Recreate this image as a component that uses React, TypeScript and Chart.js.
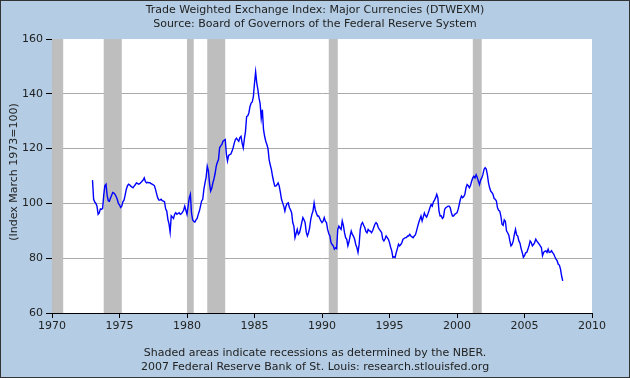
import React, { useEffect, useRef } from "react";
import { Chart, registerables } from "chart.js";

Chart.register(...registerables);

const titleLines = [
  "Trade Weighted Exchange Index: Major Currencies (DTWEXM)",
  "Source: Board of Governors of the Federal Reserve System",
];
const footerLines = [
  "Shaded areas indicate recessions as determined by the NBER.",
  "2007 Federal Reserve Bank of St. Louis: research.stlouisfed.org",
];
const yAxisTitle = "(Index March 1973=100)";

const startYear = 1973;
// monthly values, Jan 1973 .. Nov 2007
const values = [
  // 1973
  108.5, 101.5, 100.5, 100, 99, 96, 96.5, 98, 97.8, 98.2, 103, 106.5,
  // 1974
  107, 103, 101, 100.8, 102, 103, 104, 103.8, 103.3, 102.5, 101.5, 100,
  // 1975
  99.5, 98.5, 99, 100.6, 101.2, 103, 105.1, 106.3, 107, 106.8, 106.3, 106,
  // 1976
  105.7, 106.3, 106.8, 107.5, 107.3, 107, 107.2, 107.6, 108.1, 108.5, 109.3, 108,
  // 1977
  107.5, 107.7, 107.5, 107.6, 107.2, 107, 106.8, 106.5, 105.1, 103.5, 102, 101.2,
  // 1978
  101.2, 101.5, 101, 100.8, 100.6, 98, 97.2, 94.2, 92.5, 89.5, 95.5, 95,
  // 1979
  94.5, 96, 96.6, 96, 96.3, 96.6, 96, 96.2, 96.8, 97.5, 99, 97.5,
  // 1980
  96, 99, 102, 103.3, 96.5, 94, 93.4, 93.2, 94, 94.5, 96, 97.2,
  // 1981
  99, 100.9, 101.5, 105.1, 107.5, 109.5, 113.6, 112, 107.5, 104.5, 105.5, 107.5,
  // 1982
  109, 111, 113.6, 115, 116, 120.3, 121, 121.5, 122.7, 123, 123.3, 118,
  // 1983
  115.5, 117.5, 117.8, 118, 119, 120.3, 122, 123.3, 123.8, 123.2, 122.7, 124,
  // 1984
  124.5, 122, 120.3, 123.5, 126.3, 131.7, 132, 133, 135.4, 136.6, 137, 139,
  // 1985
  143.9, 148, 144, 141.5, 138.5, 136.4, 131, 134.2, 127, 124.5, 122.7, 121.5,
  // 1986
  120, 116, 114, 112.4, 110, 108, 106.3, 106.3, 106.8, 107.5, 106.3, 104,
  // 1987
  101.5, 100.2, 99, 97.2, 99, 100, 100.2, 98.5, 97.7, 96.6, 93, 91.7,
  // 1988
  87.5, 89, 90.5, 88.7, 89.3, 91, 93, 94.8, 94, 93, 89.5, 88.1,
  // 1989
  89.3, 91.1, 94.2, 96, 97.2, 100.2, 97.7, 96.5, 95.4, 95.4, 94.5, 93.6,
  // 1990
  93, 93.5, 94.8, 93.5, 93, 90.5, 89, 88.1, 85.7, 85, 84.5, 83.3,
  // 1991
  83.8, 83.5, 90.5, 91.7, 91, 90.5, 93.6, 92, 89.3, 87.5, 86.9, 84.5,
  // 1992
  86, 88.1, 89.9, 88.7, 88, 86.9, 85, 83.9, 82.1, 85, 90.5, 92.4,
  // 1993
  93, 92, 91.2, 89.8, 89.3, 90.5, 90, 89.9, 89.3, 90, 91.2, 92.4,
  // 1994
  93, 92.5, 91.2, 90.5, 90, 89.3, 86.9, 86.3, 87, 88.1, 87.5, 86.9,
  // 1995
  85.7, 84, 82.7, 80.3, 80.5, 80.3, 82.1, 83.5, 85.1, 84.5, 85, 85.7,
  // 1996
  86.9, 87.2, 87.5, 87.5, 88.1, 88.1, 88.7, 88.1, 87.8, 87.5, 88.1, 88.5,
  // 1997
  89.9, 91.5, 93, 94.2, 95.4, 93.6, 95, 96.5, 95.5, 95, 96, 97.2,
  // 1998
  98.5, 99.6, 99, 100.5, 101.2, 102.1, 103.3, 102, 97.2, 95.4, 95.5, 94.5,
  // 1999
  95, 97.8, 98.4, 98.7, 99, 99, 98.4, 96.6, 95.4, 95.4, 96, 96.3,
  // 2000
  96.6, 97.8, 99.6, 101.5, 102.7, 102.1, 102.5, 103.3, 105.7, 106.9, 106.5, 105.7,
  // 2001
  106.5, 108.1, 109.3, 109.9, 109.3, 110.5, 109.5, 108.1, 106.9, 108.5, 109.3, 110.5,
  // 2002
  112.4, 113, 112.5, 110.5, 107.5, 105.7, 104.5, 104, 103.3, 101.8, 101.5, 100.9,
  // 2003
  98.4, 97.5, 97.2, 95.4, 92.4, 92, 94, 93.5, 90, 89.3, 88.5, 86.3,
  // 2004
  84.5, 85, 86.3, 88.7, 90.5, 88.5, 88.1, 86.3, 85.5, 83.5, 82.1, 80.3,
  // 2005
  80.9, 82, 82.1, 83.3, 84.5, 86.3, 85.7, 84.5, 85, 85.7, 86.9, 86.2,
  // 2006
  85.7, 85.1, 84.5, 83.9, 80.9, 82.1, 82.5, 82.7, 82.1, 83.3, 82.1, 82.2,
  // 2007
  82.7, 82, 81.5, 80.5, 79.7, 79.1, 77.8, 77.5, 76, 73.5, 71.7,
];

const recessionStarts = [1969.92, 1973.83, 1980.0, 1981.5, 1990.5, 2001.17];
const recessionEnds = [1970.83, 1975.17, 1980.5, 1982.83, 1991.17, 2001.83];

const xMin = 1970;
const xMax = 2010;
const xStep = 5;
const yMin = 60;
const yMax = 160;
const yStep = 20;

const FONT = "'DejaVu Sans', Verdana, sans-serif";
const BG = "#b4cde4";

const framePlugin = {
  id: "frame",
  beforeDraw(chart: any) {
    const { ctx, chartArea, width, height } = chart;
    ctx.save();
    ctx.fillStyle = BG;
    ctx.fillRect(0, 0, width, height);
    ctx.fillStyle = "#ffffff";
    ctx.fillRect(chartArea.left, chartArea.top, chartArea.right - chartArea.left, chartArea.bottom - chartArea.top);
    ctx.restore();
  },
  beforeDatasetsDraw(chart: any) {
    const { ctx, chartArea, scales } = chart;
    ctx.save();
    ctx.beginPath();
    ctx.rect(chartArea.left, chartArea.top, chartArea.right - chartArea.left, chartArea.bottom - chartArea.top);
    ctx.clip();
    ctx.fillStyle = "#bebebe";
    for (let i = 0; i < recessionStarts.length; i++) {
      const x1 = scales.x.getPixelForValue(recessionStarts[i]);
      const x2 = scales.x.getPixelForValue(recessionEnds[i]);
      ctx.fillRect(x1, chartArea.top, x2 - x1, chartArea.bottom - chartArea.top);
    }
    ctx.restore();
  },
  afterDraw(chart: any) {
    const { ctx, width, height, chartArea } = chart;
    ctx.save();
    ctx.fillStyle = "#222222";
    ctx.font = `11px ${FONT}`;
    ctx.textAlign = "center";
    ctx.textBaseline = "middle";
    ctx.fillText(titleLines[0], width / 2, 10.5);
    ctx.fillText(titleLines[1], width / 2, 24);
    ctx.fillText(footerLines[0], width / 2, 353);
    ctx.fillText(footerLines[1], width / 2, 367);
    ctx.translate(14, (chartArea.top + chartArea.bottom) / 2 - 4);
    ctx.rotate(-Math.PI / 2);
    ctx.fillText(yAxisTitle, 0, 0);
    ctx.restore();
    ctx.save();
    ctx.strokeStyle = "#333333";
    ctx.lineWidth = 1;
    ctx.strokeRect(0.5, 0.5, width - 1, height - 1);
    ctx.restore();
  },
};

export default function App() {
  const ref = useRef<HTMLCanvasElement | null>(null);
  useEffect(() => {
    document.body.style.margin = "0";
    document.body.style.overflow = "hidden";
    const canvas = ref.current;
    if (!canvas) return;
    const points = values.map((v, i) => ({ x: startYear + i / 12, y: v }));
    const chart = new Chart(canvas, {
      type: "line",
      data: {
        datasets: [
          {
            data: points,
            borderColor: "#0000ff",
            borderWidth: 1.4,
            pointRadius: 0,
            tension: 0,
            fill: false,
          },
        ],
      },
      options: {
        animation: false,
        responsive: false,
        devicePixelRatio: 1,
        layout: { padding: { left: 0, top: 39, right: 38, bottom: 40 } },
        plugins: {
          legend: { display: false },
          tooltip: { enabled: false },
          title: { display: false },
        },
        scales: {
          x: {
            type: "linear",
            min: xMin,
            max: xMax,
            afterFit: (s: any) => {
              s.height = 25;
            },
            ticks: {
              stepSize: xStep,
              autoSkip: false,
              maxRotation: 0,
              padding: 2,
              color: "#222222",
              font: { family: FONT, size: 11 },
              callback: (v: any) => String(v),
            },
            grid: {
              drawOnChartArea: false,
              color: "#000000",
              tickColor: "#000000",
              tickLength: 5,
            },
            border: { display: true, color: "#000000", width: 1 },
          },
          y: {
            min: yMin,
            max: yMax,
            afterFit: (s: any) => {
              s.width = 52;
            },
            ticks: {
              stepSize: yStep,
              padding: 3,
              color: "#222222",
              font: { family: FONT, size: 11 },
              callback: (v: any) => String(v),
            },
            grid: {
              color: (c: any) =>
                c.tick && (c.tick.value === yMin || c.tick.value === yMax) ? "rgba(0,0,0,0)" : "#aaaaaa",
              tickColor: "#000000",
              tickLength: 6,
              lineWidth: 1,
            },
            border: { display: true, color: "#000000", width: 1 },
          },
        },
      },
      plugins: [framePlugin],
    });
    return () => chart.destroy();
  }, []);
  return <canvas ref={ref} width={630} height={378} style={{ display: "block", width: 630, height: 378 }} />;
}
